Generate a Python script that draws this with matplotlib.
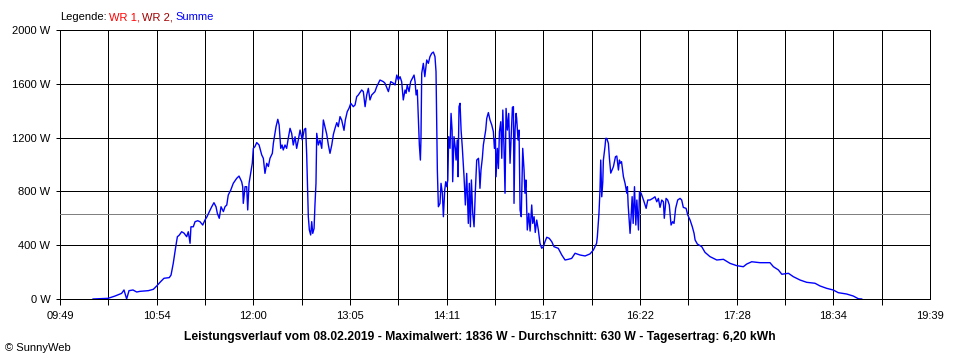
import numpy as np
import matplotlib
matplotlib.use("Agg")
import matplotlib.pyplot as plt

# ---- data ----
# time in minutes since midnight, power in W (Summe)
t_min = [611.4, 621.6, 626.3, 630.8, 632.4, 634.2, 635.8, 638.5, 641.0, 643.3, 648.9, 652.3, 654.6, 656.8,
         659.5, 663.1, 664.3, 665.8, 667.5, 668.6, 669.9, 671.5, 673.1, 674.9, 676.0, 677.2, 677.8, 679.4,
         680.6, 682.4, 683.9, 685.8, 687.3, 688.7, 690.3, 691.9, 693.4, 694.8, 695.7, 697.0, 698.2, 699.8,
         700.9, 702.1, 703.1, 704.8, 706.5, 708.8, 710.4, 712.2, 712.9, 713.3, 714.5, 715.6, 716.3, 717.2,
         718.3, 719.4, 720.1, 721.2, 722.4, 724.0, 724.6, 725.8, 726.9, 728.0, 729.2, 730.3, 731.4, 733.0,
         733.7, 735.5, 736.7, 737.6, 738.7, 739.6, 740.4, 741.6, 742.7, 743.8, 745.0, 746.1, 747.2, 748.4,
         749.5, 750.6, 751.8, 753.3, 754.7, 755.6, 756.3, 757.0, 757.4, 758.1, 759.0, 759.7, 760.4, 761.3,
         761.9, 762.6, 763.1, 764.2, 765.3, 766.5, 767.6, 768.7, 769.9, 771.0, 772.1, 773.3, 774.4, 775.5,
         776.7, 777.7, 778.9, 780.0, 781.6, 782.5, 783.8, 785.0, 786.2, 787.9, 789.1, 790.2, 791.3, 793.6,
         794.7, 795.9, 797.0, 798.1, 799.2, 800.4, 801.5, 802.6, 803.8, 804.9, 806.0, 808.3, 809.4, 811.7,
         813.3, 815.1, 816.2, 817.4, 818.4, 819.6, 820.7, 821.8, 823.0, 823.7, 824.5, 825.7, 826.8, 827.9,
         829.1, 829.8, 830.5, 831.3, 832.0, 832.7, 833.4, 833.8, 834.3, 835.4, 836.4, 837.7, 838.8, 839.9,
         841.1, 842.2, 843.3, 844.0, 844.9, 845.6, 846.7, 847.4, 848.3, 849.0, 849.9, 850.6, 851.3, 852.0,
         852.6, 853.5, 854.2, 854.9, 855.3, 856.2, 857.1, 857.6, 858.4, 858.9, 859.6, 860.3, 861.0, 861.8,
         863.0, 863.9, 864.8, 865.9, 866.6, 867.3, 868.0, 868.9, 869.8, 870.7, 871.6, 872.8, 873.4, 873.8,
         874.5, 875.4, 876.1, 877.7, 878.4, 879.5, 880.6, 881.8, 882.9, 883.6, 884.3, 884.7, 885.6, 886.3,
         887.0, 887.9, 888.6, 889.3, 890.1, 890.8, 891.5, 892.4, 893.3, 894.2, 895.1, 895.8, 896.5, 896.9,
         897.6, 898.3, 898.7, 899.6, 900.3, 901.0, 901.8, 902.8, 903.7, 904.3, 905.0, 905.9, 906.9, 907.8,
         908.9, 909.6, 910.5, 911.3, 912.3, 913.4, 914.5, 915.7, 916.8, 917.9, 919.1, 920.8, 922.5, 924.0,
         926.9, 929.3, 931.5, 933.7, 936.0, 938.3, 941.7, 945.1, 948.4, 950.7, 952.9, 953.4, 954.5, 955.2,
         955.7, 956.4, 957.1, 957.5, 958.6, 959.1, 959.8, 960.9, 961.6, 962.5, 963.4, 964.3, 965.7, 966.6,
         967.7, 968.4, 968.9, 969.8, 971.1, 972.2, 973.4, 973.8, 974.3, 975.0, 975.6, 976.3, 977.0, 977.7,
         978.6, 979.5, 980.2, 981.3, 982.0, 983.1, 984.7, 986.5, 987.6, 989.1, 991.0, 992.5, 993.7, 994.8,
         995.9, 997.1, 998.2, 998.8, 1000.0, 1001.1, 1002.2, 1003.4, 1004.5, 1005.4, 1006.5, 1007.9, 1009.5,
         1010.6, 1011.7, 1013.6, 1014.7, 1016.3, 1017.8, 1019.0, 1019.7, 1021.2, 1024.2, 1026.4, 1029.8,
         1034.4, 1038.9, 1043.4, 1047.9, 1052.4, 1054.7, 1058.1, 1063.7, 1070.5, 1072.8, 1076.2, 1078.5,
         1083.0, 1086.3, 1090.9, 1095.4, 1101.0, 1104.4, 1109.0, 1113.4, 1116.8, 1122.5, 1127.0, 1130.4, 1132.7]

summe_w = [0, 5, 22, 42, 67, 0, 62, 67, 52, 57, 62, 72, 97, 124,
           154, 159, 178, 265, 389, 463, 475, 500, 490, 463, 500, 414, 537, 537,
           575, 582, 575, 550, 587, 612, 650, 686, 716, 686, 637, 600, 686, 650,
           686, 699, 773, 810, 860, 897, 914, 872, 835, 711, 835, 835, 662, 860,
           934, 1009, 1120, 1133, 1163, 1145, 1120, 1071, 1046, 934, 1009, 985, 1046, 1083,
           1158, 1281, 1336, 1294, 1120, 1145, 1108, 1145, 1120, 1194, 1269, 1232, 1145, 1206,
           1120, 1182, 1256, 1182, 1261, 1269, 1071, 786, 612, 513, 476, 575, 488, 525,
           699, 860, 1232, 1145, 1182, 1120, 1331, 1281, 1224, 1145, 1083, 1145, 1224, 1269,
           1311, 1281, 1356, 1331, 1254, 1331, 1393, 1418, 1455, 1430, 1443, 1504, 1517, 1554,
           1542, 1430, 1517, 1566, 1480, 1517, 1529, 1542, 1579, 1604, 1628, 1616, 1604, 1542,
           1616, 1604, 1591, 1665, 1628, 1653, 1616, 1480, 1554, 1529, 1591, 1542, 1616, 1640,
           1665, 1616, 1517, 1554, 1343, 1145, 1033, 1194, 1678, 1752, 1653, 1777, 1752, 1802,
           1827, 1836, 1802, 1690, 959, 686, 711, 860, 786, 612, 810, 872, 835, 885,
           1207, 1120, 1380, 1256, 872, 1207, 1120, 1033, 1182, 909, 1430, 1455, 1256, 1132,
           909, 699, 934, 562, 860, 537, 885, 637, 537, 810, 1033, 1046, 934, 823,
           959, 1046, 1145, 1256, 1343, 1386, 1331, 1294, 1244, 1120, 1194, 909, 1120, 970,
           1244, 1318, 1046, 1405, 1132, 786, 1417, 1256, 1380, 1009, 1244, 1425, 1430, 711,
           1256, 1380, 1343, 1182, 1256, 662, 612, 1120, 959, 786, 885, 513, 637, 505,
           699, 562, 612, 495, 587, 513, 414, 377, 389, 426, 459, 451, 426, 389,
           377, 327, 290, 295, 302, 340, 327, 320, 335, 364, 414, 463, 637, 810,
           1033, 760, 872, 1033, 1133, 1194, 1194, 1157, 1046, 936, 959, 984, 1058, 1063,
           959, 1033, 1009, 1021, 909, 860, 786, 835, 699, 587, 488, 612, 761, 562,
           835, 550, 736, 513, 798, 786, 736, 674, 736, 736, 748, 760, 723, 748,
           681, 736, 723, 600, 748, 736, 699, 550, 575, 562, 674, 736, 748,
           736, 681, 674, 625, 587, 537, 488, 439, 409, 389, 347, 315,
           290, 295, 265, 248, 240, 260, 277, 270, 270, 240, 216, 184,
           191, 166, 141, 124, 117, 97, 79, 67, 47, 37, 22, 2, 0]

average_w = 630
x_start_min = 589   # 09:49
x_end_min = 1179    # 19:39
x_tick_labels = ["09:49", "10:54", "12:00", "13:05", "14:11", "15:17", "16:22", "17:28", "18:34", "19:39"]
y_ticks = [0, 400, 800, 1200, 1600, 2000]
y_tick_labels = ["0 W", "400 W", "800 W", "1200 W", "1600 W", "2000 W"]
legend_parts = [("Legende:", "#000000"), ("WR 1,", "#ff0000"), ("WR 2,", "#a00000"), ("Summe", "#0000ff")]
title_text = ("Leistungsverlauf vom 08.02.2019 - Maximalwert: 1836 W - Durchschnitt: 630 W "
              "- Tagesertrag: 6,20 kWh")
copyright_text = "\u00a9 SunnyWeb"

# ---- figure ----
plt.rcParams['font.family'] = ['Liberation Sans', 'DejaVu Sans']
W, H = 960, 360
fig = plt.figure(figsize=(W / 100, H / 100), dpi=100)
fig.patch.set_facecolor("white")
ax = fig.add_axes([60 / W, 61 / H, 870 / W, 269 / H])

px = 0.72  # one pixel in points

ax.plot(t_min, summe_w, color="#0000ff", lw=1.0, zorder=4, antialiased=True)
ax.axhline(average_w, color="#808080", lw=px, zorder=3, antialiased=False)

ax.set_xlim(x_start_min, x_end_min)
ax.set_ylim(0, 2000)

grid_x = np.linspace(x_start_min, x_end_min, 19)
ax.set_xticks(grid_x)
labels = []
for i in range(19):
    labels.append(x_tick_labels[i // 2] if i % 2 == 0 else "")
ax.set_xticklabels(labels)
ax.set_yticks(y_ticks)
ax.set_yticklabels(y_tick_labels)

ax.grid(True, color="black", lw=px, zorder=2, antialiased=False)
ax.set_axisbelow(True)
for s in ax.spines.values():
    s.set_color("black")
    s.set_linewidth(px)
    s.set_antialiased(False)

ax.tick_params(axis="x", direction="out", length=6 * px, width=px, pad=4.5, labelsize=8, colors="black")
ax.tick_params(axis="y", direction="out", length=4 * px, width=px, pad=4, labelsize=8, colors="black")
ax.xaxis.get_major_ticks()[-1].tick1line.set_visible(False)

# title at bottom
fig.text(480 / W, 1 - 337 / H, title_text, ha="center", va="center", fontsize=8.7, fontweight="bold")
fig.text(5 / W, 1 - 348 / H, copyright_text, ha="left", va="center", fontsize=8)

# multicolour legend line
renderer = fig.canvas.get_renderer()
x_px = 60
for txt, col in legend_parts:
    t = fig.text(x_px / W, 1 - 17 / H, txt, ha="left", va="center", fontsize=8, color=col)
    bb = t.get_window_extent(renderer=renderer)
    x_px = bb.x1 + 2.5

fig.savefig("out.png", dpi=100, facecolor="white")
